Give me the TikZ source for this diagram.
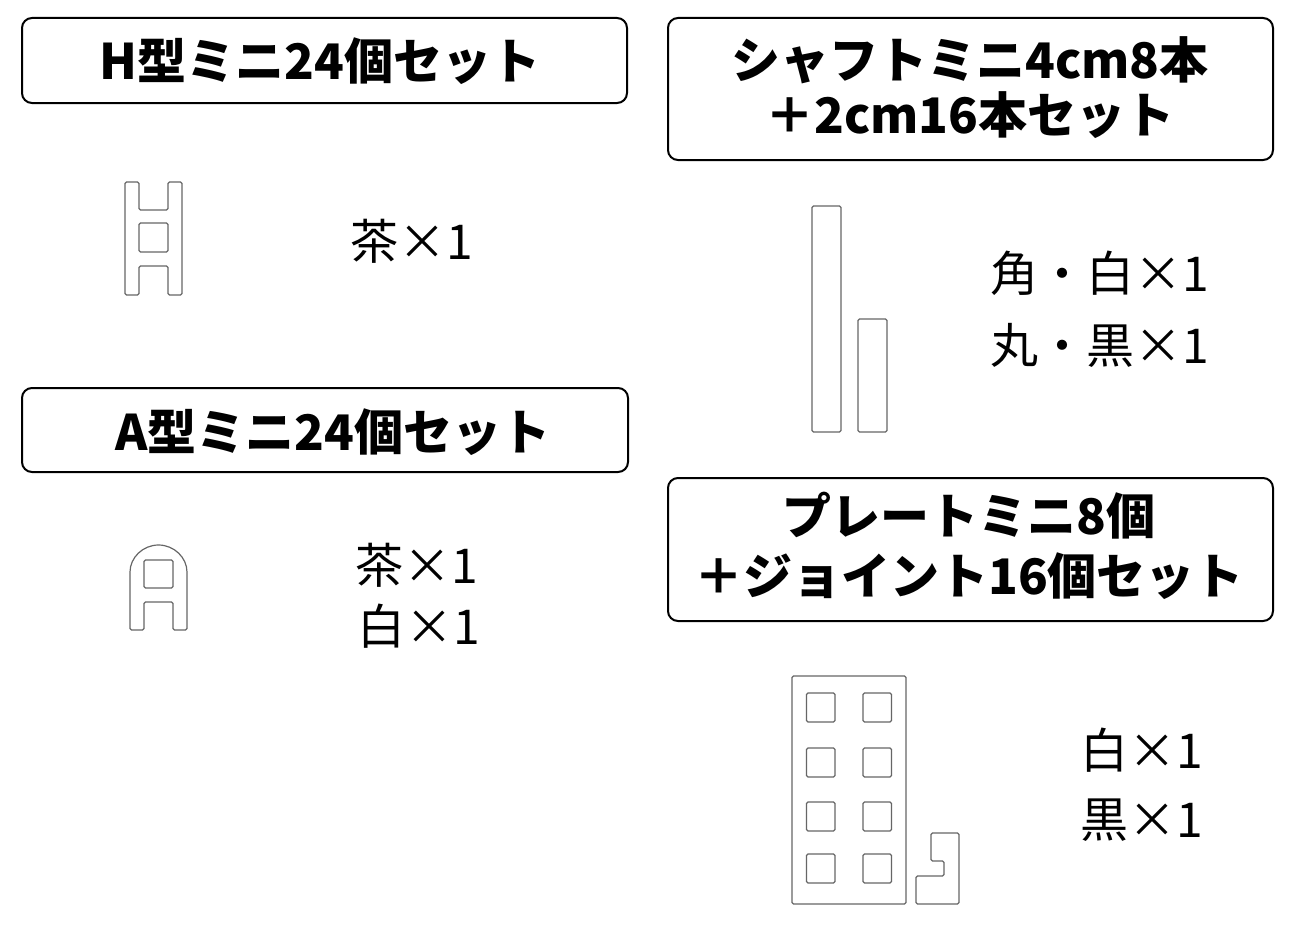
\documentclass[tikz,border=0pt]{standalone}
\usepackage{fontspec}
\setmainfont{Noto Sans CJK JP}
\begin{document}
\begin{tikzpicture}[x=1pt,y=-1pt,
  titlebox/.style={draw=black,line width=2pt,rounded corners=10pt,inner sep=0pt},
  titletext/.style={font=\fontsize{49}{55}\selectfont\bfseries,align=center,inner sep=0pt},
  label/.style={font=\fontsize{48}{58}\selectfont,anchor=west,inner sep=0pt},
  part/.style={draw=black!60,line width=1.2pt,rounded corners=1.5pt,fill=white}]
\useasboundingbox (0,0) rectangle (1300,950);
\fill[white] (0,0) rectangle (1300,950);

% title boxes
\node[titlebox,minimum width=605pt,minimum height=85pt] (b1) at (324.5,60.5) {};
\node[titlebox,minimum width=605pt,minimum height=142pt] (b2) at (970.5,89) {};
\node[titlebox,minimum width=606pt,minimum height=84pt] (b3) at (325,430) {};
\node[titlebox,minimum width=605pt,minimum height=143pt] (b4) at (970.5,549.5) {};

\node[titletext] (t1) at (320,61) {H型ミニ24個セット};
\node[titletext] (t2) at (970,88) {シャフトミニ4cm8本\\＋2cm16本セット};
\node[titletext] (t3) at (333,432) {A型ミニ24個セット};
\node[titletext,font=\fontsize{49}{60}\selectfont\bfseries] (t4) at (969,546) {プレートミニ8個\\＋ジョイント16個セット};

% labels
\node[label] (l1) at (350,241) {茶×1};
\node[label] (l2) at (355,565) {茶×1};
\node[label] (l3) at (357,626) {白×1};
\node[label] (l4) at (990,273) {角・白×1};
\node[label] (l5) at (990,345) {丸・黒×1};
\node[label] (l6) at (1080,750) {白×1};
\node[label] (l7) at (1080,820) {黒×1};

% H part
\draw[part] (125,182) -- (139,182) -- (139,210) -- (168,210) -- (168,182) -- (182,182)
  -- (182,295) -- (168,295) -- (168,266) -- (139,266) -- (139,295) -- (125,295) -- cycle;
\draw[part] (139,223) rectangle (168,252);

% A part
\draw[part] (130,630) -- (130,573.5) arc[start angle=180,end angle=360,radius=28.5]
  -- (187,630) -- (173,630) -- (173,602) -- (144,602) -- (144,630) -- cycle;
\draw[part] (144,560) rectangle (173,588);

% shafts
\draw[part] (812,206) rectangle (841,432);
\draw[part] (858,319) rectangle (887,432);

% plate
\draw[part] (792,676) rectangle (906,904);
\foreach \yy in {693,748,802,854}{
  \draw[part] (806.5,\yy) rectangle ++(28.5,29);
  \draw[part] (863,\yy) rectangle ++(28.5,29);
}

% joint
\draw[part] (931,833) -- (959,833) -- (959,904) -- (916,904) -- (916,876) -- (944,876)
  -- (944,861) -- (931,861) -- cycle;
\end{tikzpicture}
\end{document}
